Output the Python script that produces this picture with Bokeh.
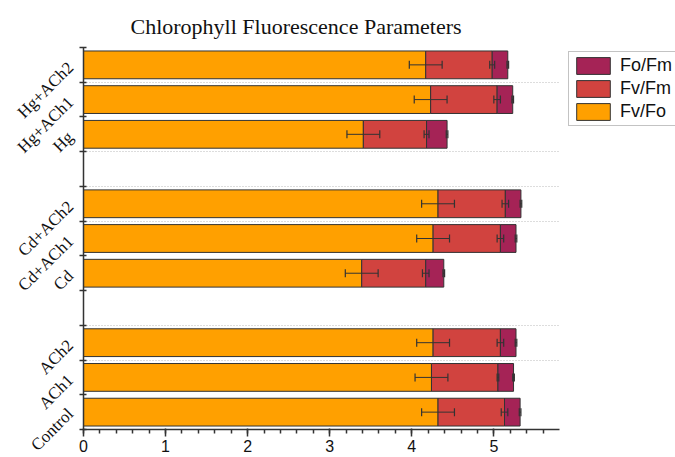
import numpy as np
from math import pi
from bokeh.plotting import figure
from bokeh.models import (Range1d, FixedTicker, Whisker, ColumnDataSource,
                          Legend, LegendItem, TeeHead)
from bokeh.embed import file_html
from bokeh.resources import INLINE

# ---- data ----
groups = ["Control", "ACh1", "ACh2", "Cd", "Cd+ACh1", "Cd+ACh2",
          "Hg", "Hg+ACh1", "Hg+ACh2"]
slots = [0.5, 1.5, 2.5, 4.5, 5.5, 6.5, 8.5, 9.5, 10.5]
fv_fo = [4.32, 4.24, 4.26, 3.39, 4.26, 4.32, 3.41, 4.23, 4.17]
fv_fm = [0.81, 0.81, 0.82, 0.78, 0.82, 0.82, 0.77, 0.81, 0.81]
fo_fm = [0.19, 0.19, 0.19, 0.22, 0.19, 0.19, 0.25, 0.19, 0.19]
fv_fo_err = [0.20, 0.20, 0.20, 0.20, 0.20, 0.20, 0.20, 0.20, 0.20]
fv_fm_err = [0.04, 0.01, 0.04, 0.04, 0.04, 0.04, 0.03, 0.04, 0.03]
fo_fm_err = [0.01, 0.01, 0.01, 0.01, 0.01, 0.01, 0.01, 0.01, 0.01]
x_ticks = [0, 1, 2, 3, 4, 5]

C_FVFO = "#FFA000"
C_FVFM = "#D1433F"
C_FOFM = "#A52356"
EDGE = "#333333"

e1 = np.array(fv_fo)
e2 = e1 + np.array(fv_fm)
e3 = e2 + np.array(fo_fm)

src = ColumnDataSource(dict(
    y=slots, l1=np.zeros(len(slots)), r1=e1, r2=e2, r3=e3,
    lo1=e1 - np.array(fv_fo_err), hi1=e1 + np.array(fv_fo_err),
    lo2=e2 - np.array(fv_fm_err), hi2=e2 + np.array(fv_fm_err),
    lo3=e3 - np.array(fo_fm_err), hi3=e3 + np.array(fo_fm_err),
))

p = figure(frame_width=476, frame_height=382, output_backend="svg",
           toolbar_location=None,
           x_range=Range1d(0, 5.8), y_range=Range1d(0, 11),
           min_border_left=83, min_border_right=0, min_border_top=47,
           min_border_bottom=18)
p.outline_line_color = None
p.background_fill_color = "white"

p.title.text = "Chlorophyll Fluorescence Parameters"
p.title.text_font = "Liberation Serif"
p.title.text_font_size = "22px"
p.title.text_font_style = "normal"
p.title.text_color = "#111111"
p.title.align = "left"
p.title.offset = 47
p.title.standoff = 17

h = 0.8
b1 = p.hbar(y="y", left="l1", right="r1", height=h, source=src,
            fill_color=C_FVFO, line_color=EDGE, line_width=1)
b2 = p.hbar(y="y", left="r1", right="r2", height=h, source=src,
            fill_color=C_FVFM, line_color=EDGE, line_width=1)
b3 = p.hbar(y="y", left="r2", right="r3", height=h, source=src,
            fill_color=C_FOFM, line_color=EDGE, line_width=1)

for lo, hi in (("lo1", "hi1"), ("lo2", "hi2"), ("lo3", "hi3")):
    w = Whisker(base="y", lower=lo, upper=hi, dimension="width", source=src,
                line_color=EDGE, line_width=1, level="overlay",
                upper_head=TeeHead(size=8, line_color=EDGE, line_width=1.2),
                lower_head=TeeHead(size=8, line_color=EDGE, line_width=1.2))
    p.add_layout(w)

# grid
p.xgrid.visible = False
p.ygrid.ticker = FixedTicker(ticks=[2, 3, 6, 7, 8, 10])
p.ygrid.grid_line_color = "#BBBBBB"
p.ygrid.grid_line_dash = "1 2"
p.ygrid.grid_line_width = 1

# y axis
ya = p.yaxis[0]
ya.ticker = FixedTicker(ticks=slots, minor_ticks=list(range(12)))
ya.major_label_overrides = {s: g for s, g in zip(slots, groups)}
ya.major_tick_line_color = None
ya.minor_tick_in = 3
ya.minor_tick_out = 4
ya.minor_tick_line_color = EDGE
ya.minor_tick_line_width = 1.5
ya.axis_line_color = EDGE
ya.axis_line_width = 1.5
ya.major_label_orientation = pi / 4
ya.major_label_text_font = "Liberation Serif"
ya.major_label_text_font_size = "17px"
ya.major_label_text_color = "#111111"
ya.major_label_standoff = 7

# x axis
xa = p.xaxis[0]
xa.ticker = FixedTicker(ticks=x_ticks,
                        minor_ticks=[i * 0.2 for i in range(30)])
xa.major_tick_in = 1
xa.major_tick_out = 7
xa.minor_tick_in = 0
xa.minor_tick_out = 4
xa.major_tick_line_color = EDGE
xa.minor_tick_line_color = EDGE
xa.major_tick_line_width = 1.5
xa.minor_tick_line_width = 1.5
xa.axis_line_color = EDGE
xa.axis_line_width = 1.5
xa.major_label_text_font = "Liberation Sans"
xa.major_label_text_font_size = "16px"
xa.major_label_text_color = "#111111"
xa.major_label_standoff = 3

legend = Legend(items=[LegendItem(label="Fo/Fm", renderers=[b3]),
                       LegendItem(label="Fv/Fm", renderers=[b2]),
                       LegendItem(label="Fv/Fo", renderers=[b1])],
                location=(9, 303), orientation="vertical",
                glyph_width=42, glyph_height=21, spacing=2, padding=3,
                margin=0, label_standoff=6,
                label_text_font="Liberation Sans", label_text_font_size="18px",
                label_text_color="#111111", label_height=21,
                border_line_color="#888888", border_line_width=1.5,
                background_fill_alpha=1.0)
p.add_layout(legend, "right")

open("out.html", "w").write(file_html(p, INLINE))
